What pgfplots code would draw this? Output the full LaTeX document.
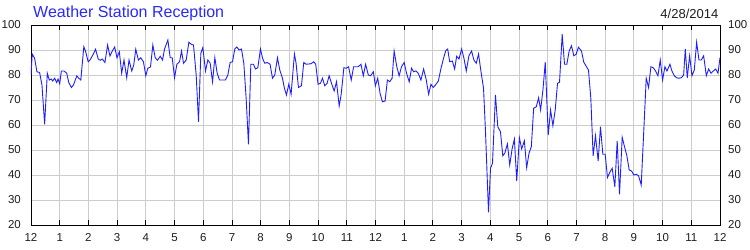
\documentclass[border=0pt]{standalone}
\usepackage{fontspec}
\setmainfont{Liberation Sans}
\usepackage{pgfplots}
\usepackage{pgfplotstable}
\pgfplotsset{compat=1.18}
\definecolor{linec}{RGB}{30,30,255}
\definecolor{titlec}{RGB}{40,40,255}
\definecolor{gridc}{RGB}{204,204,204}
\definecolor{labc}{RGB}{30,30,30}

\pgfplotstableread{
h v
0 80
0.043 88.4
0.125 86.7
0.207 81.3
0.30 81
0.382 76
0.475 60.3
0.568 80.7
0.638 78
0.708 78.4
0.755 77.6
0.825 78.7
0.895 77
0.942 78.4
1.0 76.5
1.058 81.6
1.152 81.6
1.245 80.7
1.315 77
1.408 75
1.478 76
1.595 79.6
1.665 78.7
1.735 78
1.840 91.3
1.898 89.6
1.992 85.3
2.062 86.1
2.167 88.3
2.249 90.3
2.342 86.4
2.412 85.9
2.482 86.4
2.575 85
2.669 92
2.750 87.6
2.832 89.6
2.914 91.2
2.995 86.9
3.077 89.3
3.159 80.7
3.240 86
3.334 78.9
3.415 86
3.509 81.6
3.579 84
3.649 90.3
3.742 86
3.824 86.9
3.917 85.3
3.999 79.7
4.069 82.7
4.162 83.2
4.244 92
4.326 86.9
4.407 85.9
4.501 87.5
4.582 86
4.652 90.4
4.768 94
4.849 86.9
4.919 86.9
5.0 78.9
5.081 84.3
5.174 85.3
5.244 89.6
5.313 84.7
5.406 86
5.499 93.1
5.580 92.3
5.661 92
5.754 80
5.835 61.3
5.916 88.7
5.986 91
6.079 81.6
6.160 86
6.241 84.7
6.323 77.3
6.404 86.9
6.485 80.7
6.566 78
6.659 78
6.775 78
6.856 80
6.937 85
7.019 85.3
7.100 90.4
7.169 91.2
7.251 90
7.332 90.4
7.413 84.7
7.494 70.7
7.575 52.3
7.657 84.3
7.749 84.3
7.819 82.4
7.900 82.9
7.993 90.4
8.074 86.4
8.144 84.7
8.225 85
8.329 84.3
8.411 78.7
8.492 80
8.585 86.9
8.666 82
8.759 78.7
8.828 74.7
8.898 72
8.979 76.3
9.060 72.3
9.176 88.4
9.234 84.7
9.316 75
9.420 75.7
9.501 85
9.582 84.3
9.755 84.5
9.848 85.3
9.918 84.3
10.0 76.3
10.082 76.7
10.152 78.7
10.233 75.7
10.315 76.7
10.385 79.7
10.467 76.7
10.560 73.6
10.642 77.3
10.735 67.6
10.805 72.3
10.898 82.9
10.980 82.7
11.062 83.3
11.155 78
11.237 83.3
11.319 83.3
11.400 83.3
11.494 84.3
11.575 79.7
11.657 84.3
11.750 80
11.832 79.7
11.925 81.3
11.995 75.7
12.077 78.7
12.159 72.7
12.240 69.3
12.334 69.6
12.415 78
12.497 77.3
12.579 78.7
12.649 89.6
12.742 83.3
12.824 79.7
12.905 83.3
12.999 85
13.081 80.7
13.174 77.3
13.256 82.7
13.326 81.3
13.407 81.6
13.489 80.7
13.582 78
13.676 82.4
13.769 78
13.851 72.3
13.932 76.3
14.014 75
14.107 76.3
14.189 77.6
14.282 82.7
14.376 86.9
14.446 89.7
14.514 90.4
14.584 85.3
14.676 85.6
14.757 82.4
14.827 87.5
14.908 86.4
15.0 90.4
15.081 86.7
15.162 81.6
15.254 87.7
15.347 89.6
15.428 86
15.509 84.7
15.590 88.4
15.671 81.6
15.763 74.7
15.832 57.3
15.936 25.1
16.006 42.7
16.075 44.7
16.179 72
16.260 59.3
16.353 57.3
16.434 47.7
16.503 48.7
16.595 52.4
16.676 44
16.757 50.4
16.838 54.4
16.919 37.6
17.012 54.9
17.092 50.4
17.185 53.7
17.266 42.9
17.347 48.7
17.428 51.3
17.509 66.7
17.601 67.3
17.682 70.9
17.751 66
17.832 74
17.913 85.1
18.017 56
18.098 66
18.179 59.7
18.260 66
18.341 76.7
18.410 77.1
18.503 96.3
18.584 84.3
18.665 84.3
18.746 89.6
18.827 91.7
18.908 87.7
18.988 88.3
19.069 91.1
19.174 89.6
19.256 85.1
19.349 83.3
19.419 82
19.500 70.7
19.581 47.7
19.663 55.7
19.756 45.6
19.837 59.3
19.919 48.3
20.0 48.3
20.081 39
20.163 41.1
20.244 42.7
20.337 35.3
20.419 53.6
20.5 32.3
20.593 55.1
20.674 51.3
20.756 47.7
20.837 42
20.919 41.6
21.0 40
21.081 40.3
21.163 39.7
21.256 36
21.349 58.7
21.430 78.7
21.512 75
21.593 83.3
21.674 82.9
21.756 81.6
21.837 79.7
21.919 86
22.0 78
22.081 83.3
22.151 81.6
22.256 84.3
22.326 81.6
22.407 79.7
22.488 78.9
22.570 78.7
22.651 78.9
22.733 80
22.791 90.4
22.860 78.9
22.942 87.7
23.023 79.7
23.105 82
23.186 93.1
23.267 86
23.349 86
23.430 87.7
23.523 79.7
23.605 82.4
23.686 80.7
23.767 81.6
23.849 82.4
23.930 80.7
24.0 86.9
}\reception

\begin{document}
\begin{tikzpicture}
\useasboundingbox (-31bp,-25bp) rectangle (719bp,225bp);
\begin{axis}[
  at={(0,0)}, anchor=south west,
  scale only axis, width=689bp, height=200bp,
  xmin=0, xmax=24, ymin=20, ymax=100,
  xtick={0,...,24},
  xticklabels={12,1,2,3,4,5,6,7,8,9,10,11,12,1,2,3,4,5,6,7,8,9,10,11,12},
  ytick={20,30,...,100},
  grid=major, major grid style={gridc, line width=0.9bp},
  axis line style={black, line width=0.9bp},
  tick align=inside, xtick pos=both, major tick length=5bp,
  ytick style={draw=none},
  xtick style={black, line width=0.9bp},
  tick label style={font=\fontsize{11.5bp}{13bp}\selectfont, text=labc, inner sep=0pt},
  xticklabel style={yshift=-8bp},
  yticklabel style={xshift=-10bp},
  /pgf/number format/assume math mode=true,
  yticklabel pos=left,
]
\addplot[linec, line width=0.9bp, mark=none] table[x=h, y=v] {\reception};
\end{axis}
\begin{axis}[
  at={(0,0)}, anchor=south west,
  scale only axis, width=689bp, height=200bp,
  xmin=0, xmax=24, ymin=20, ymax=100,
  xtick=\empty,
  ytick={20,30,...,100},
  axis line style={draw=none},
  ytick style={draw=none},
  tick label style={font=\fontsize{11.5bp}{13bp}\selectfont, text=labc, inner sep=0pt},
  yticklabel style={xshift=8bp},
  /pgf/number format/assume math mode=true,
  yticklabel pos=right,
]
\addplot[draw=none] coordinates {(0,20)};
\end{axis}
\node[anchor=base west, text=titlec, font=\fontsize{16bp}{18bp}\selectfont, inner sep=0pt] at (2bp,207.7bp) {Weather Station Reception};
\node[anchor=base east, text=labc, font=\fontsize{13bp}{15bp}\selectfont, inner sep=0pt] at (687.5bp,206.7bp) {4/28/2014};
\end{tikzpicture}
\end{document}
